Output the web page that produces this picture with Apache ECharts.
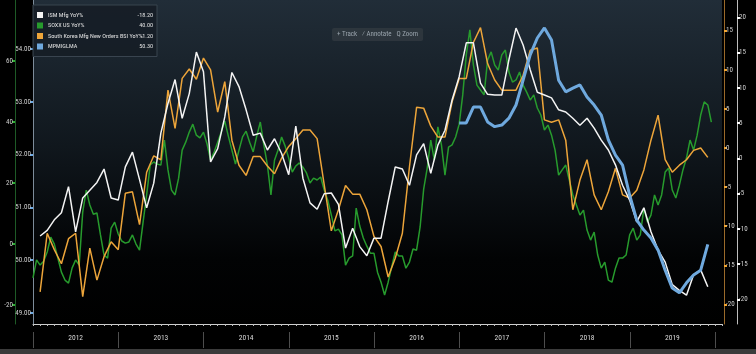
<!DOCTYPE html>
<html>
<head>
<meta charset="utf-8">
<script src="https://cdn.jsdelivr.net/npm/echarts@6/dist/echarts.min.js"></script>
<style>
  html, body { margin: 0; padding: 0; background: #000; }
  #chart { width: 756px; height: 354px; }
</style>
</head>
<body>
<div id="chart"></div>
<script>
// x positions are months counted from Jan 2012
const years = ['2012', '2013', '2014', '2015', '2016', '2017', '2018', '2019'];

// ISM Mfg YoY% (monthly, from month 1)
const ismStart = 1;
const ism = [-11.0, -10.2, -8.7, -7.7, -4.0, -10.4, -5.6, -4.5, -3.4, -1.5, -5.6, -5.9, -1.2, 0.9, -3.0, -7.0,
  -3.5, 3.6, 7.8, 11.2, 5.7, 9.2, 15.1, 12.3, -0.5, 1.4, 5.9, 12.2, 10.2, 6.9, 3.3, 3.6,
  1.2, 2.8, 0.7, -2.3, 4.6, -2.8, -6.3, -7.2, -5.0, -4.9, -6.5, -12.7, -9.9, -12.5, -13.8, -11.3,
  -11.3, -6.1, -1.2, -1.5, -3.8, 0.5, 2.1, -2.1, 1.9, 4.0, 8.3, 11.6, 16.4, 16.4, 10.7, 9.1,
  9.0, 9.0, 14.0, 18.5, 16.1, 12.6, 9.4, 9.0, 8.6, 6.9, 6.6, 5.7, 4.7, 5.7, 4.3, 2.6,
  1.2, -0.9, -3.8, -5.9, -9.0, -7.0, -10.4, -13.0, -14.7, -17.9, -18.7, -19.4, -16.5, -15.8, -18.2];

// SOXX US YoY% (half-month steps, from month 0)
const soxxStart = 0;
const soxxStep = 0.5;
const soxx = [-11.1, -5.2, -6.9, -5.6, -2.6, 2.3, 0, -4.6, -9.2, -11.8,
  -12.8, -7.9, -5.2, -6.9, 10.5, 17.7, 12.8, 9.8, 10.2, 3.0,
  -3.6, -4.6, 5.2, 7.2, 3.3, 1.0, 0.3, 0.7, 3.0, 0,
  -2.0, 7.2, 16.1, 25.9, 26.9, 26.2, 25.9, 34.1, 24.3, 17.7,
  16.1, 21.6, 30.8, 33.4, 36.7, 39.3, 35.7, 34.8, 36.7, 32.8,
  27.5, 30.2, 33.4, 36.7, 40.3, 35.4, 30.8, 26.2, 30.8, 35.1,
  37.0, 33.4, 30.2, 35.4, 40.0, 32.5, 25.9, 16.1, 27.5, 30.8,
  35.1, 32.1, 28.2, 23.6, 25.6, 26.6, 25.2, 23.3, 20.0, 21.6,
  21.0, 22.0, 17.7, 14.4, 9.5, 4.3, 4.9, 3.0, -6.9, -4.6,
  -3.9, 11.8, 5.9, 2.0, -0.7, -3.0, -3.0, -9.2, -12.5, -16.7,
  -12.5, -7.5, -2.6, -3.9, -3.9, -7.9, -5.9, -1.6, -2.0, 5.6,
  18.0, 24.9, 34.1, 27.5, 38.4, 32.5, 22.6, 31.8, 32.5, 35.1,
  39.3, 48.9, 62.0, 70.2, 58.7, 52.1, 50.5, 48.9, 60.3, 63.0,
  58.7, 57.0, 62.0, 63.6, 56.4, 53.1, 53.8, 56.4, 52.1, 49.8,
  47.2, 48.9, 44.6, 42.3, 37.4, 39.0, 35.7, 30.8, 22.6, 24.3,
  25.9, 21.0, 16.1, 12.8, 9.5, 11.1, 4.6, 1.3, 3.9, -3.6,
  -7.9, -5.9, -11.8, -12.5, -7.9, -4.6, -4.6, -3.6, 3.0, 5.2,
  1.3, 3.0, 11.8, 7.2, 9.5, 16.1, 12.8, 16.1, 23.6, 24.9,
  17.7, 15.1, 19.3, 24.3, 28.2, 34.1, 30.8, 35.7, 42.3, 46.6,
  45.6, 40.0];

// South Korea Mfg New Orders BSI YoY% (monthly, from month 1)
const koreaStart = 1;
const korea = [-18.4, -10.9, -13.0, -14.8, -11.6, -10.9, -19.0, -12.8, -16.9, -13.9, -12.0, -13.0, -5.8, -5.6, -9.8, -3.1,
  -1.0, -1.5, 7.4, 2.5, 8.9, 10.1, 8.8, 11.5, 10.0, 4.6, 8.5, 1.0, -2.2, -3.5, -1.1, -1.1, -2.3,
  -3.3, -1.3, 0.2, 1.2, 2.3, 2.3, 1.2, -4.7, -10.6, -7.9, -4.8, -5.9, -5.9, -7.9, -11.3,
  -12.6, -16.5, -14.1, -10.9, -2.4, 5.2, 5.1, 2.8, 1.4, 1.4, 5.9, 8.9, 8.9, 13.5, 15.4, 10.8, 8.7,
  7.4, 7.4, 7.4, 9.3, 12.5, 12.8, 3.6, 3.3, 3.6, 1.0, -7.9, -4.1, -1.5, -6.0, -7.9,
  -5.6, -2.6, -6.0, -6.4, -5.4, -2.8, 1.0, 4.2, -1.5, -3.1, -2.2, -1.5, -0.3, 0.0, -1.2];

// MPMIGLMA (monthly, from month 60)
const pmiStart = 60;
const pmi = [52.60, 52.60, 52.90, 52.90, 52.62, 52.53, 52.56, 52.69, 52.94, 53.41, 53.89, 54.21,
  54.40, 54.17, 53.41, 53.19, 53.26, 53.32, 53.09, 52.94, 52.75, 52.28, 51.99, 51.80,
  51.23, 50.76, 50.57, 50.42, 50.19, 49.81, 49.47, 49.38, 49.57, 49.72, 49.81, 50.30];

const names = ['ISM Mfg YoY%', 'SOXX US YoY%', 'South Korea Mfg New Orders BSI YoY%', 'MPMIGLMA'];
const lastValues = ['-18.20', '40.00', '-1.20', '50.30'];

const font = "'Roboto Condensed', 'DejaVu Sans Condensed', sans-serif";
const toPairs = (arr, start, step) => arr.map((v, i) => [start + i * step, v]);

const chart = echarts.init(document.getElementById('chart'));

// one value axis per series, each with its own tick marks
const sideAxis = (opts) => ({
  type: 'value',
  gridIndex: 0,
  position: opts.position,
  offset: opts.offset,
  min: opts.min,
  max: opts.max,
  splitLine: { show: false },
  axisLine: { show: true, onZero: false, lineStyle: { color: opts.lineColor, width: 1 } },
  axisTick: { show: true, length: 3, customValues: opts.ticks, lineStyle: { color: opts.tickColor, width: 2 } },
  axisLabel: {
    show: true,
    customValues: opts.ticks,
    hideOverlap: false,
    color: '#cfcfcf',
    fontFamily: font,
    fontSize: 7,
    margin: 2,
    formatter: opts.formatter
  }
});

const option = {
  backgroundColor: '#000',
  animation: false,
  title: {
    text: '+ Track   ⁄ Annotate   Q Zoom',
    left: 332,
    top: 28,
    padding: [3, 5],
    backgroundColor: 'rgba(48,56,64,0.85)',
    borderRadius: 2,
    textStyle: { color: '#9aa4ad', fontSize: 7, fontWeight: 'normal', fontFamily: font }
  },
  legend: {
    data: names,
    orient: 'vertical',
    left: 33,
    top: 5,
    padding: [6, 4, 6, 4],
    itemWidth: 6,
    itemHeight: 6,
    itemGap: 2.5,
    icon: 'rect',
    selectedMode: false,
    backgroundColor: 'rgba(22,30,38,0.94)',
    borderColor: '#39444f',
    borderWidth: 1,
    formatter: (name) => '{n|' + name + '}{v|' + lastValues[names.indexOf(name)] + '}',
    textStyle: {
      color: '#e0e0e0',
      fontFamily: font,
      fontSize: 6.2,
      lineHeight: 8,
      rich: {
        n: { width: 91, fontSize: 6.2, fontFamily: font, color: '#e0e0e0' },
        v: { width: 14, align: 'right', fontSize: 6.2, fontFamily: font, color: '#e0e0e0' }
      }
    }
  },
  grid: [
    {
      left: 33, right: 34, top: 0, bottom: 30,
      show: true, borderWidth: 0,
      backgroundColor: new echarts.graphic.LinearGradient(0, 0, 0, 1, [
        { offset: 0, color: '#212d38' },
        { offset: 0.45, color: '#10171d' },
        { offset: 0.8, color: '#020304' },
        { offset: 1, color: '#000000' }
      ])
    },
    { left: 33, right: 41, top: 332, bottom: 6 }
  ],
  xAxis: [
    {
      type: 'value',
      gridIndex: 0,
      min: 0,
      max: 97,
      interval: 1,
      splitLine: { show: false },
      axisLine: { onZero: false, lineStyle: { color: '#cfcfcf', width: 1 } },
      axisTick: { show: true, length: 2, lineStyle: { color: '#bdbdbd' } },
      axisLabel: { show: false }
    },
    {
      // year strip under the plot
      type: 'category',
      gridIndex: 1,
      data: years,
      boundaryGap: true,
      axisLine: { show: false, onZero: false },
      axisTick: { show: false },
      splitLine: { show: true, interval: 0, lineStyle: { color: '#4d4d4d', width: 1 } },
      axisLabel: { inside: true, margin: 6, color: '#d8d8d8', fontFamily: font, fontSize: 7.5 }
    }
  ],
  yAxis: [
    sideAxis({ position: 'left', offset: 18, min: -26.2, max: 80, ticks: [-20, 0, 20, 40, 60],
      lineColor: '#1e5a26', tickColor: '#2fae34' }),
    sideAxis({ position: 'left', offset: 0, min: 48.79, max: 54.93, ticks: [49, 50, 51, 52, 53, 54],
      lineColor: '#7d8c9a', tickColor: '#6aa8e4', formatter: (v) => v.toFixed(2) }),
    sideAxis({ position: 'right', offset: 2, min: -22.51, max: 18.93, ticks: [-20, -15, -10, -5, 0, 5, 10, 15],
      lineColor: '#9a6a2a', tickColor: '#f0a533' }),
    sideAxis({ position: 'right', offset: 15, min: -23.48, max: 22.48, ticks: [-20, -15, -10, -5, 0, 5, 10, 15, 20],
      lineColor: '#bdbdbd', tickColor: '#ffffff' }),
    { type: 'value', gridIndex: 1, show: false }
  ],
  series: [
    {
      name: names[1], type: 'line', xAxisIndex: 0, yAxisIndex: 0, z: 2,
      showSymbol: false, symbol: 'none',
      itemStyle: { color: '#279b2d' },
      lineStyle: { color: '#279b2d', width: 1.5 },
      data: toPairs(soxx, soxxStart, soxxStep)
    },
    {
      name: names[2], type: 'line', xAxisIndex: 0, yAxisIndex: 2, z: 3,
      showSymbol: false, symbol: 'none',
      itemStyle: { color: '#eda53a' },
      lineStyle: { color: '#eda53a', width: 1.5 },
      data: toPairs(korea, koreaStart, 1)
    },
    {
      name: names[0], type: 'line', xAxisIndex: 0, yAxisIndex: 3, z: 4,
      showSymbol: false, symbol: 'none',
      itemStyle: { color: '#f4f4f4' },
      lineStyle: { color: '#f4f4f4', width: 1.5 },
      data: toPairs(ism, ismStart, 1)
    },
    {
      name: names[3], type: 'line', xAxisIndex: 0, yAxisIndex: 1, z: 5,
      showSymbol: false, symbol: 'none',
      itemStyle: { color: '#6fa9de' },
      lineStyle: { color: '#6fa9de', width: 3 },
      data: toPairs(pmi, pmiStart, 1)
    }
  ],
  graphic: [
    { type: 'rect', left: 0, bottom: 0, shape: { width: 756, height: 5 }, style: { fill: '#3b3b3b' }, silent: true }
  ]
};

chart.setOption(option);
</script>
</body>
</html>
